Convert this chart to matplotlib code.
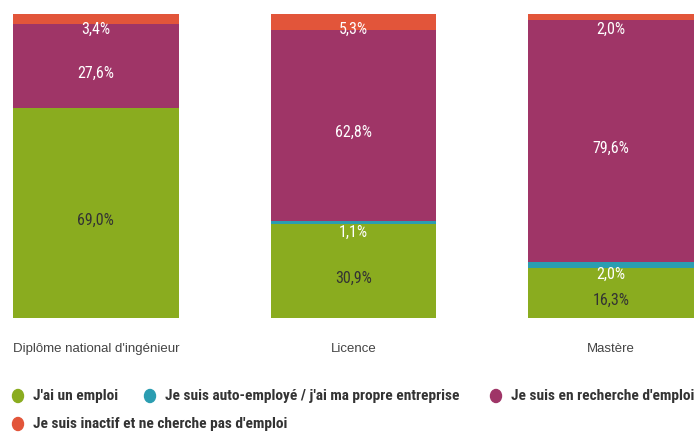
import matplotlib
matplotlib.use("Agg")
import matplotlib.pyplot as plt
import numpy as np

categories = ["Diplôme national d'ingénieur", "Licence", "Mastère"]
emploi = [69.0, 30.9, 16.3]
auto = [0.0, 1.1, 2.0]
recherche = [27.6, 62.8, 79.6]
inactif = [3.4, 5.3, 2.0]

series_names = ["J'ai un emploi", "Je suis auto-employé / j'ai ma propre entreprise",
                "Je suis en recherche d'emploi", "Je suis inactif et ne cherche pas d'emploi"]
colors = ["#8aac1f", "#2b9db1", "#9f3567", "#e2553a"]
label_colors = ["#333333", "white", "white", "white"]

narrow = ["Liberation Sans Narrow", "Roboto Condensed", "DejaVu Sans"]

fig = plt.figure(figsize=(6.99, 4.34), dpi=100)
W, H = 699, 434
ax = fig.add_axes([13 / W, (H - 318) / H, (694 - 13) / W, (318 - 14) / H])

x = np.arange(len(categories))
width = 0.643
bottom = np.zeros(len(categories))
all_series = [emploi, auto, recherche, inactif]
for k, (vals, col, lc) in enumerate(zip(all_series, colors, label_colors)):
    vals = np.array(vals)
    ax.bar(x, vals, width, bottom=bottom, color=col, edgecolor="none")
    for xi, v, b in zip(x, vals, bottom):
        if v <= 0:
            continue
        if v < 6:
            # small segments: label pushed just under the segment
            y = b + v - (5.0 if k == len(all_series) - 1 else 3.8)
        else:
            y = b + v / 2 - 2.3  # labels sit a bit under the middle
        ax.text(xi, y, f"{v:.1f}".replace(".", ",") + "%", ha="center", va="center",
                color=lc, fontsize=11.5, family=narrow)
    bottom += vals

ax.set_xlim(-width / 2, len(categories) - 1 + width / 2)
ax.set_ylim(0, 100)
ax.set_xticks(x)
ax.set_xticklabels(categories, fontsize=9.5, color="#444444", family=["Liberation Sans", "DejaVu Sans"])
ax.tick_params(axis="x", length=0, pad=18)
ax.set_yticks([])
for s in ax.spines.values():
    s.set_visible(False)

# legend drawn by hand: 3 items on first row, 1 on second
leg = [(18, 396, 0), (150, 396, 1), (496, 396, 2), (18, 424, 3)]
for px, py, i in leg:
    fig.patches.append(matplotlib.patches.Ellipse((px / W, (H - py) / H), 11 / W, 13 / H,
                                                  transform=fig.transFigure, color=colors[i]))
    fig.text((px + 15) / W, (H - py) / H, series_names[i], ha="left", va="center",
             fontsize=11.1, fontweight="bold", color="#333333", family=narrow)

fig.savefig("out.png", dpi=100)
